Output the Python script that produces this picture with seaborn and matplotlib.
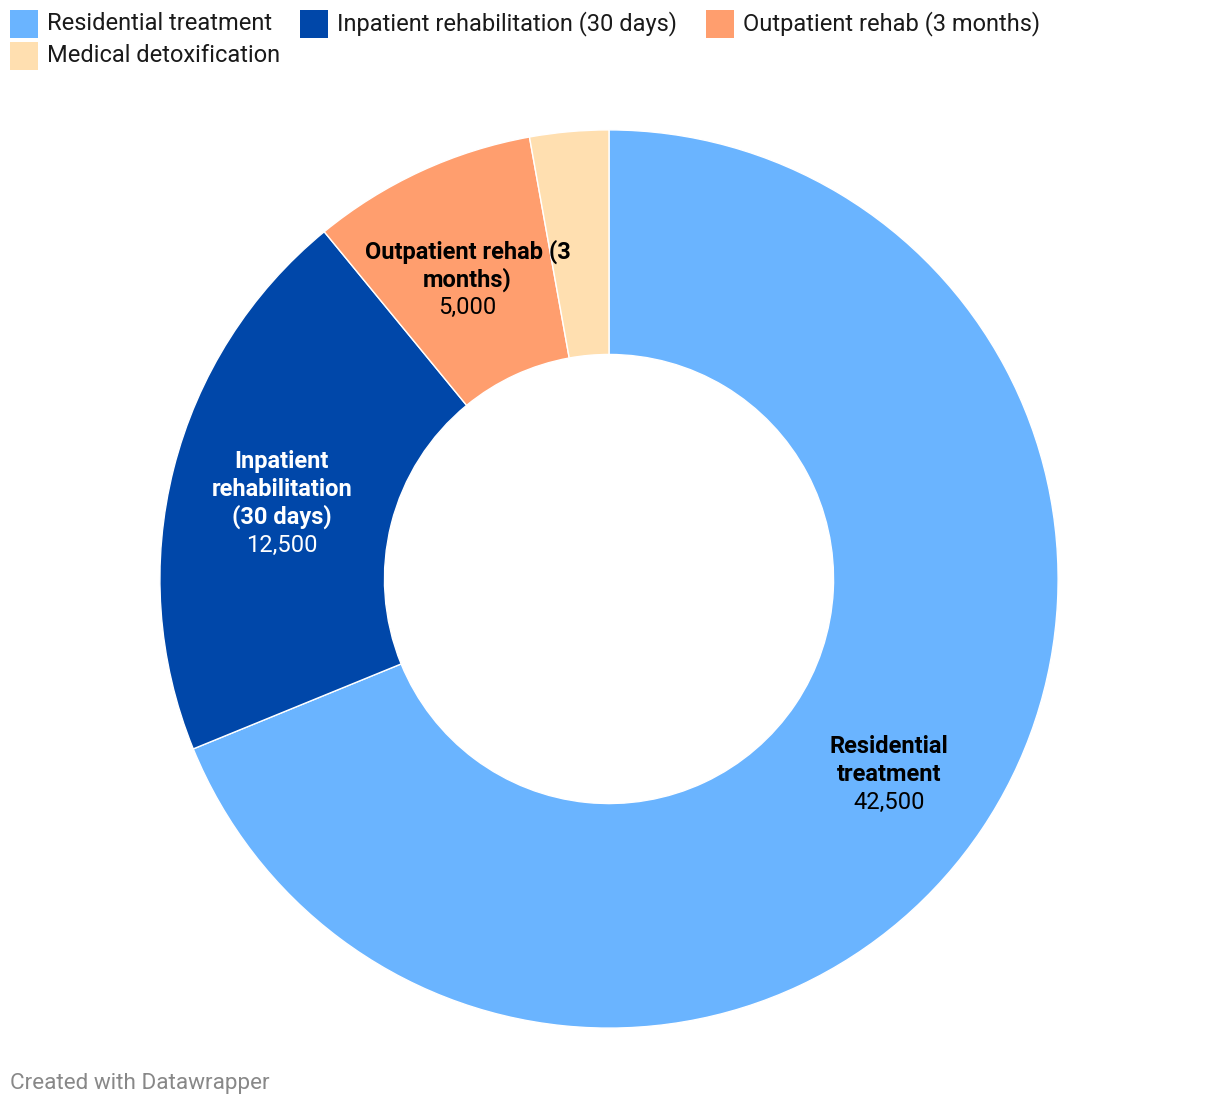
import matplotlib
matplotlib.use("Agg")
import matplotlib.pyplot as plt
import seaborn as sns
from matplotlib.patches import Rectangle
import numpy as np

categories = ["Residential treatment", "Inpatient rehabilitation (30 days)",
              "Outpatient rehab (3 months)", "Medical detoxification"]
values = [42500, 12500, 5000, 1750]
slice_labels = ["Residential\ntreatment", "Inpatient\nrehabilitation\n(30 days)",
                "Outpatient rehab (3\nmonths)", ""]
value_labels = ["42,500", "12,500", "5,000", ""]
colors = ["#6ab4ff", "#0047a9", "#ff9e6e", "#ffdfb0"]
label_colors = ["#000000", "#ffffff", "#000000", "#000000"]

sns.set_theme(style="white")
plt.rcParams['font.family'] = ['Roboto', 'DejaVu Sans']

W, H = 1220, 1106
fig = plt.figure(figsize=(W / 100, H / 100), dpi=100)
fig.patch.set_facecolor("white")

cx, cy, R = 609, 579, 450
ax = fig.add_axes([(cx - R) / W, (H - cy - R) / H, 2 * R / W, 2 * R / H])
palette = sns.color_palette(colors)
wedges, _ = ax.pie(values, colors=palette, startangle=90, counterclock=False,
                   radius=0.998,
                   wedgeprops=dict(width=0.499, edgecolor="white", linewidth=1))
ax.set_xlim(-1, 1)
ax.set_ylim(-1, 1)
ax.set_aspect("equal")
ax.axis("off")

# in-slice labels
line_h = 28
shift = -7
for w, lab, val, col in zip(wedges, slice_labels, value_labels, label_colors):
    if not lab:
        continue
    mid = np.deg2rad((w.theta1 + w.theta2) / 2)
    r = 0.75
    x, y = r * np.cos(mid), r * np.sin(mid)
    lines = lab.split("\n")
    n = len(lines) + 1
    for i, ln in enumerate(lines):
        off = (n - 1) / 2 * line_h - i * line_h + shift
        ax.annotate(ln, (x, y), xytext=(0, off), textcoords="offset pixels",
                    ha="center", va="center", fontsize=17, fontweight="bold",
                    color=col)
    off = (n - 1) / 2 * line_h - (n - 1) * line_h + shift
    ax.annotate(val, (x, y), xytext=(0, off), textcoords="offset pixels",
                ha="center", va="center", fontsize=17, color=col)

# legend (top)
sq = 28
leg_pos = [(10, 24), (300, 24), (706, 24), (10, 56)]
for (lx, ly), name, c in zip(leg_pos, categories, colors):
    fig.add_artist(Rectangle((lx / W, (H - ly - sq / 2) / H), sq / W, sq / H,
                             transform=fig.transFigure, facecolor=c,
                             edgecolor="none"))
    fig.text((lx + sq + 9) / W, (H - ly) / H, name, ha="left", va="center",
             fontsize=17, color="#1a1a1a")

fig.text(10 / W, (H - 1083) / H, "Created with Datawrapper", ha="left",
         va="center", fontsize=16.2, color="#888888")

fig.savefig("out.png", dpi=100, facecolor="white")
